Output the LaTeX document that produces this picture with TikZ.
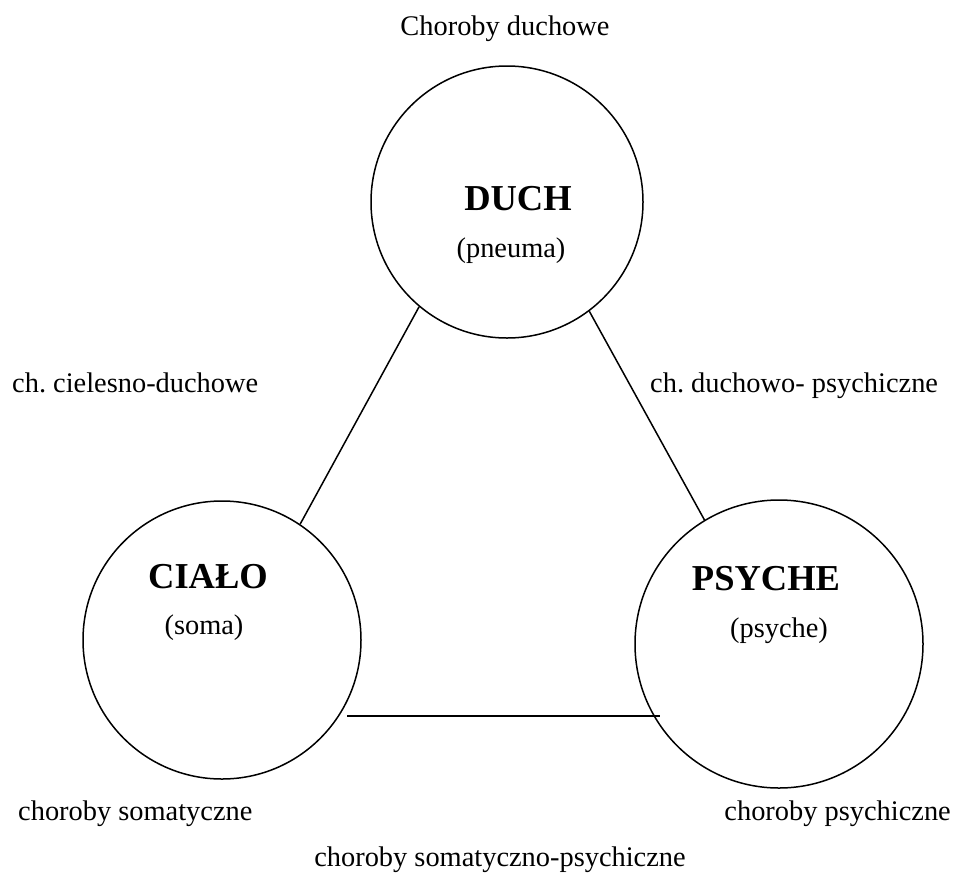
\documentclass[tikz,border=0pt]{standalone}
\usepackage{fontspec}
\setmainfont{Liberation Serif}
\usetikzlibrary{calc}
\frenchspacing
\begin{document}
\begin{tikzpicture}[x=1pt,y=-1pt,
  ring/.style={circle,draw,line width=1.5pt,inner sep=0pt},
  link/.style={line width=1.5pt},
  txt/.style={font=\fontsize{28.4}{34}\selectfont,inner sep=0pt},
  big/.style={font=\fontsize{36.5}{42}\selectfont\bfseries,inner sep=0pt}]
\useasboundingbox (0,0) rectangle (958,884);
\node[ring,minimum size=272pt] (duch) at (507,202) {};
\node[ring,minimum size=278pt] (ciala) at (222,640) {};
\node[ring,minimum size=288pt] (psyche) at (779,644) {};
\node[big,anchor=base] (duchT) at (518,210) {DUCH};
\node[txt,anchor=base] (duchS) at (511,257) {(pneuma)};
\node[big,anchor=base] (cialaT) at (208,588) {CIAŁO};
\node[txt,anchor=base] (cialaS) at (204,634) {(soma)};
\node[big,anchor=base] (psycheT) at (766,590) {PSYCHE};
\node[txt,anchor=base] (psycheS) at (779,637) {(psyche)};
\draw[link] (duch.230) -- (ciala.56.6);
\draw[link] (duch.307) -- (psyche.121);
\coordinate (bl) at ($(ciala.center)+(125,76)$);
\coordinate (br) at ($(psyche.center)+(-119,72)$);
\draw[link] (bl) -- (br);
\node[txt,anchor=base] (top) at (505,35) {Choroby duchowe};
\node[txt,anchor=base west] (lcd) at (12,392) {ch.\ cielesno-duchowe};
\node[txt,anchor=base west] (ldp) at (650,392) {ch.\ duchowo- psychiczne};
\node[txt,anchor=base west] (lsom) at (18,820) {choroby somatyczne};
\node[txt,anchor=base east] (lpsy) at (951,820) {choroby psychiczne};
\node[txt,anchor=base] (lsp) at (500,866) {choroby somatyczno-psychiczne};
\end{tikzpicture}
\end{document}
